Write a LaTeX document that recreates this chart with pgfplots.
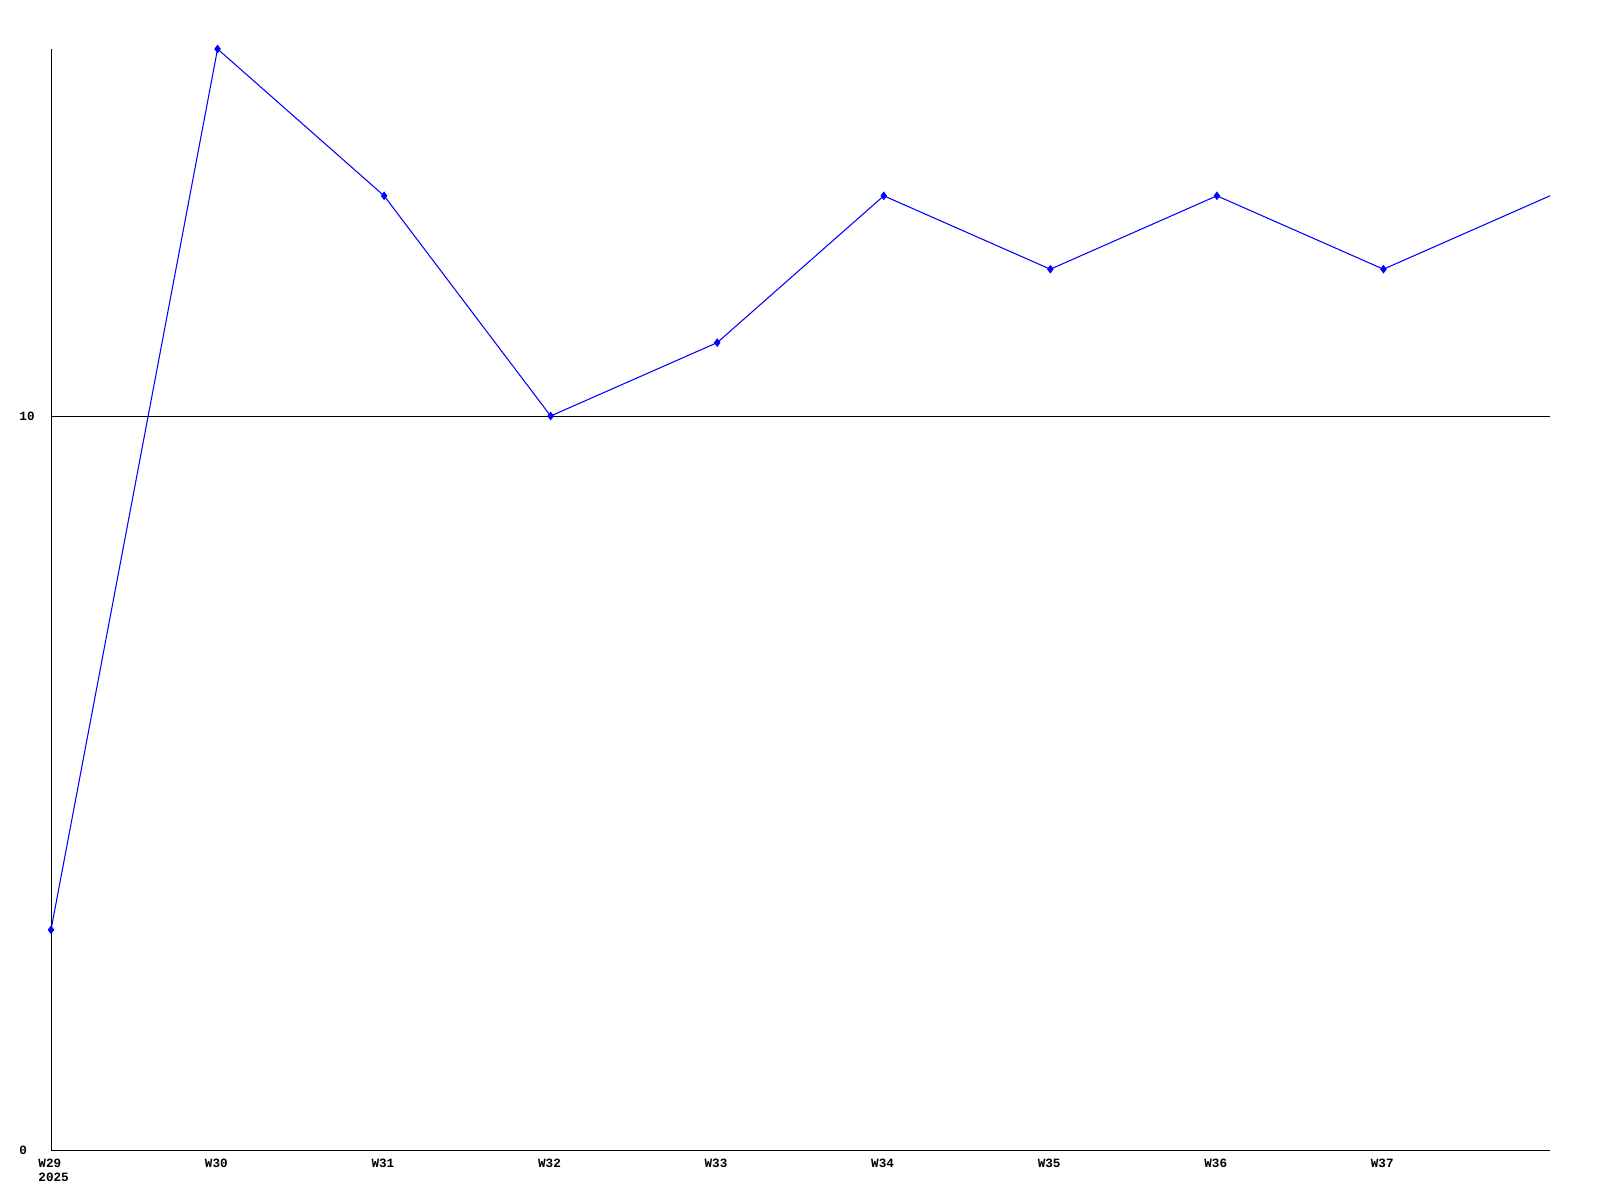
\documentclass[border=0pt]{standalone}
\usepackage{pgfplots}
\pgfplotsset{compat=1.18}
\usepackage{fontspec}
\setmainfont{Liberation Mono}

\begin{document}
\begin{tikzpicture}
  % page = 1600x1200 px at 0.1 mm per px, axis origin at px (51,1150)
  \useasboundingbox (-0.51cm,-0.50cm) rectangle (15.49cm,11.50cm);
  \begin{axis}[
    at={(0,0)}, anchor=origin,
    scale only axis,
    width=14.99cm, height=11.01cm,
    xmin=0, xmax=9, ymin=0, ymax=15,
    axis x line=bottom, axis y line=left,
    axis line style={black, line width=0.25pt, -},
    xtick={0,1,...,8},
    xticklabels={{W29\\2025},W30,W31,W32,W33,W34,W35,W36,W37},
    ytick={0,10},
    major tick length=0pt,
    ymajorgrids, grid style={black, line width=0.25pt},
    tick label style={font=\fontsize{3.6}{4.0}\selectfont\bfseries},
    xticklabel style={anchor=north west, xshift=-2.5mm, yshift=0.3mm, align=left},
    yticklabel style={anchor=west, xshift=-4.4mm},
    /pgf/number format/assume math mode=true,
    clip=false,
  ]
    \addplot[color={rgb,255:red,0;green,0;blue,255}, line width=0.3pt,
      mark=diamond*, mark size=0.35mm, mark indices={1,2,3,4,5,6,7,8,9}]
      coordinates {
        (0,3) (1,15) (2,13) (3,10) (4,11) (5,13) (6,12) (7,13) (8,12) (9,13)
      };
  \end{axis}
\end{tikzpicture}
\end{document}
